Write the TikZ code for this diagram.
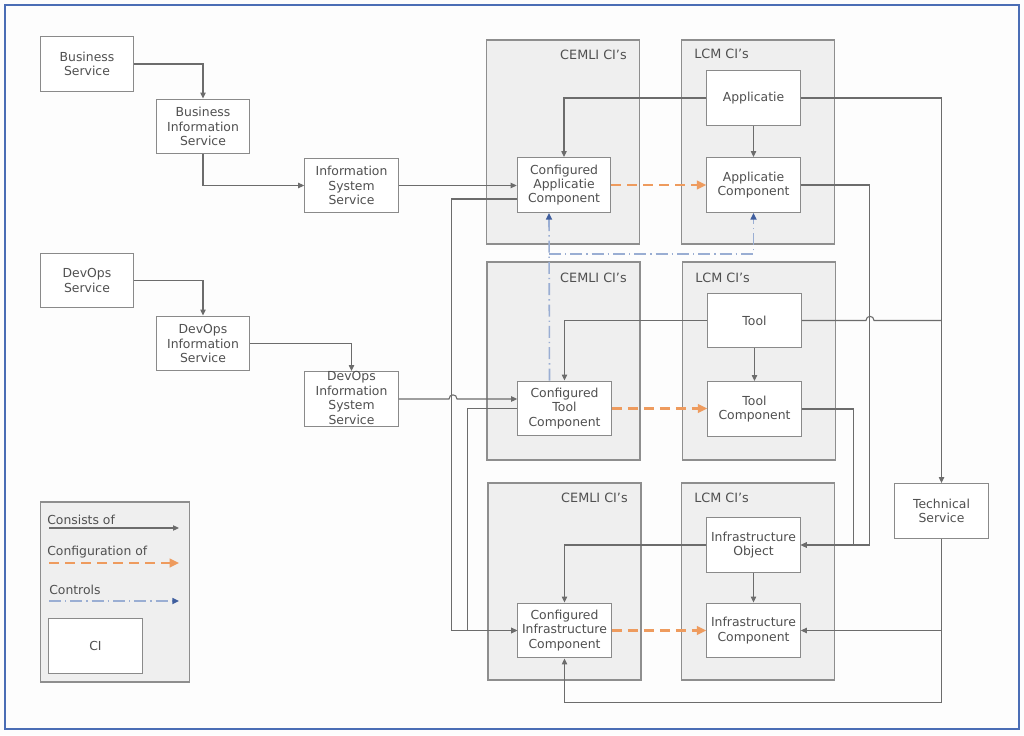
\documentclass[tikz,border=0pt]{standalone}
\usepackage{fontspec}
\setmainfont{DejaVu Sans}
\usetikzlibrary{arrows.meta,calc}
\definecolor{bgc}{HTML}{FDFDFD}
\definecolor{framec}{HTML}{4A6DB5}
\definecolor{linegray}{HTML}{6C6C6C}
\definecolor{boxgray}{HTML}{8A8A8A}
\definecolor{grpgray}{HTML}{8E8E8E}
\definecolor{grpfill}{HTML}{EFEFEF}
\definecolor{txtgray}{HTML}{505050}
\definecolor{orangec}{HTML}{EE9B5E}
\definecolor{bluec}{HTML}{9AAED3}
\definecolor{bluedark}{HTML}{3F5E9E}
\begin{document}
\begin{tikzpicture}[x=0.75pt,y=-0.75pt,
  box/.style={draw=boxgray, fill=white, line width=0.9pt, minimum width=70pt, minimum height=41pt, inner sep=0pt, align=center, text=txtgray, font=\fontsize{9.3}{10.8}\selectfont},
  txt/.style={inner sep=0pt, align=center, text=txtgray, font=\fontsize{9.3}{10.8}\selectfont},
  grp/.style={draw=grpgray, fill=grpfill, line width=1.1pt, inner sep=0pt, minimum width=114.5pt},
  glabel/.style={inner sep=0pt, text=txtgray, font=\fontsize{9.6}{11}\selectfont},
  consline/.style={draw=linegray, line width=0.8pt},
  cons/.style={consline, -{Triangle[length=4.5pt,width=4pt]}},
  conf/.style={draw=orangec, line width=1.6pt, dash pattern=on 7.5pt off 4.5pt, -{Triangle[length=7pt,width=6.5pt]}},
  ctrl/.style={draw=bluec, line width=1.2pt, dash pattern=on 9pt off 3pt on 1pt off 3pt, -{Triangle[length=5pt,width=4.5pt,color=bluedark]}}
]
\useasboundingbox (0,0) rectangle (1024,735);
\fill[bgc] (0,0) rectangle (1024,735);
\draw[framec, line width=1pt] (5,5) rectangle (1019,729);

% groups
\node[grp, minimum height=153pt] (g1c) at (563,142) {};
\node[grp, minimum height=153pt] (g1l) at (758,142) {};
\node[grp, minimum height=148.5pt] (g2c) at (563.5,361) {};
\node[grp, minimum height=148.5pt] (g2l) at (759,361) {};
\node[grp, minimum height=147.75pt] (g3c) at (564.5,581.5) {};
\node[grp, minimum height=147.75pt] (g3l) at (758,581.5) {};
\node[glabel, anchor=east] (g1cl) at (627,55) {CEMLI CI’s};
\node[glabel, anchor=west] (g1ll) at (694,54) {LCM CI’s};
\node[glabel, anchor=east] (g2cl) at (627,278) {CEMLI CI’s};
\node[glabel, anchor=west] (g2ll) at (695,278) {LCM CI’s};
\node[glabel, anchor=east] (g3cl) at (628,498) {CEMLI CI’s};
\node[glabel, anchor=west] (g3ll) at (694,498) {LCM CI’s};

% left chain
\node[box] (bs) at (87,64) {Business\\Service};
\node[box] (bis) at (203,126.5) {Business\\Information\\Service};
\node[box] (iss) at (351.5,185.5) {Information\\System\\Service};
\node[box] (ds) at (87,280.5) {DevOps\\Service};
\node[box] (dis) at (203,343.5) {DevOps\\Information\\Service};
\node[box] (diss) at (351.5,399) {};
\node[txt] (dissT) at (351.5,398) {DevOps\\Information\\System\\Service};

% CI boxes
\node[box] (app) at (753.5,98) {Applicatie};
\node[box] (cac) at (564,185) {Configured\\Applicatie\\Component};
\node[box] (apc) at (753.5,185) {Applicatie\\Component};
\node[box] (tool) at (754.5,320.5) {Tool};
\node[box] (ctc) at (564.5,408.5) {Configured\\Tool\\Component};
\node[box] (tc) at (754.5,409) {Tool\\Component};
\node[box] (io) at (753.5,545) {Infrastructure\\Object};
\node[box] (cic) at (564.5,630.5) {Configured\\Infrastructure\\Component};
\node[box] (ic) at (753.5,630.5) {Infrastructure\\Component};
\node[box] (ts) at (941.5,511) {Technical\\Service};

% legend
\node[grp, minimum width=111.75pt, minimum height=135pt] (leg) at (115,592) {};
\node[txt, anchor=west] (l1) at (47,520) {Consists of};
\node[txt, anchor=west] (l2) at (47,552) {Configuration of};
\node[txt, anchor=west] (l3) at (49,590) {Controls};
\node[box] (ci) at (95.5,646) {CI};
\coordinate (l1a) at (49,528); \coordinate (l1b) at (179,528);
\coordinate (l2a) at (49,563); \coordinate (l2b) at (179,563);
\coordinate (l3a) at (49,601); \coordinate (l3b) at (179,601);
\draw[cons] (l1a) -- (l1b);
\draw[conf] (l2a) -- (l2b);
\draw[ctrl] (l3a) -- (l3b);

% connectors left chain
\draw[cons] (bs.east) -| (bis.north);
\draw[cons] (bis.south) |- (iss.west);
\draw[cons] (ds.east) -| (dis.north);
\draw[cons] (dis.east) -| (diss.north);
\draw[cons] (iss.east) -- (iss.east -| cac.west);
\draw[cons] (diss.east) -- (449,399) .. controls (449,393.5) and (457,393.5) .. (457,399) -- (ctc.west |- diss.east);
\draw[cons] ($(cac.west)+(0,14)$) -- ++(-65,0) |- (cic.west);
\draw[cons] (ctc.west) -- ++(-50,0) |- (cic.west);

% configuration arrows
\draw[conf] (cac.east) -- (apc.west);
\draw[conf] (ctc.east) -- (ctc.east -| tc.west);
\draw[conf] (cic.east) -- (ic.west);

% LCM connectors
\draw[cons] (app.west) -| (cac.north);
\draw[cons] (app.south) -- (apc.north);
\draw[cons] (app.east) -| (ts.north);
\draw[cons] (apc.east) -- ++(69,0) |- (io.east);
\draw[cons] (tool.west) -| (ctc.north);
\draw[cons] (tool.south) -- (tc.north);
\draw[consline] (tool.east) -- (866,320.5) .. controls (866,315) and (874,315) .. (874,320.5) -- (tool.east -| ts.north);
\draw[cons] (tc.east) -- ++(52,0) |- (io.east);
\draw[cons] (io.west) -| (cic.north);
\draw[cons] (io.south) -- (ic.north);
\draw[cons] (ts.south) -- ++(0,164) -| (cic.south);
\draw[cons] (ic.east -| ts.south) -- (ic.east);

% controls
\draw[ctrl] ($(ctc.north)+(-15,0)$) -- ($(cac.south)+(-15,0)$);
\draw[ctrl] ($(cac.south)+(-15,41)$) -| (apc.south);
\end{tikzpicture}
\end{document}
